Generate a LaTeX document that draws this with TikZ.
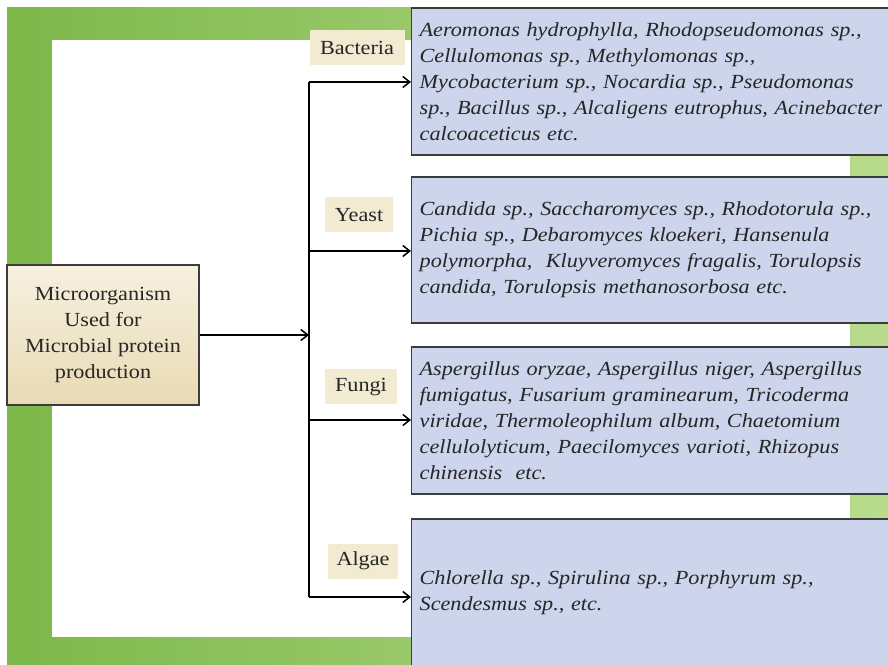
\documentclass[tikz,border=0pt]{standalone}
\usepackage{fontspec}
\setmainfont{Liberation Serif}[FakeStretch=1.11]
\usetikzlibrary{arrows.meta}
\definecolor{leafgreen}{HTML}{7DB84A}
\definecolor{palegreen}{HTML}{B9DB8E}
\definecolor{specblue}{HTML}{CDD5EC}
\definecolor{catbeige}{HTML}{F3EAD2}
\definecolor{srcbeige}{HTML}{E8DAB4}
\definecolor{edgegray}{HTML}{3C3C3C}

\begin{document}
\begin{tikzpicture}
	[x=1pt,y=1pt,every node/.style={font=\fontsize{20}{26}\selectfont,text=black!85},
	cat/.style={fill=catbeige,inner sep=0pt,minimum height=35pt},
	spec/.style={draw=edgegray,line width=1.3pt,fill=specblue,anchor=west,
		text width=490pt,inner xsep=8pt,align=left,
		font=\fontsize{20}{26}\selectfont\itshape},
	link/.style={line width=1.5pt,-{Straight Barb[length=7pt,width=11pt]}}]
	\useasboundingbox (0,0) rectangle (888,664);
	\fill[white] (0,0) rectangle (888,664);
	\shade[left color=leafgreen,right color=palegreen] (7,0) rectangle (888,656);
	\fill[white] (52,27) rectangle (850,624);

	\node[draw=edgegray,line width=1.3pt,top color=catbeige!70!white,bottom color=srcbeige,
		minimum width=192pt,minimum height=140pt,align=center,inner sep=0pt] (src) at (103,329)
		{Microorganism\\Used for\\Microbial protein\\production};

	\node[cat,minimum width=95pt] (bac) at (357,616) {Bacteria};
	\node[cat,minimum width=68pt] (yea) at (359,449) {Yeast};
	\node[cat,minimum width=72pt] (fun) at (361,277) {Fungi};
	\node[cat,minimum width=70pt] (alg) at (363,103) {Algae};

	\node[spec,minimum height=147pt] (b1) at (411,582.5)
		{Aeromonas hydrophylla, Rhodopseudomonas sp.,\\Cellulomonas sp., Methylomonas sp.,\\Mycobacterium sp., Nocardia sp., Pseudomonas\\sp., Bacillus sp., Alcaligens eutrophus, Acinebacter\\calcoaceticus etc.};
	\node[spec,minimum height=146pt] (b2) at (411,414)
		{Candida sp., Saccharomyces sp., Rhodotorula sp.,\\Pichia sp., Debaromyces kloekeri, Hansenula\\polymorpha,\ \ Kluyveromyces fragalis, Torulopsis\\candida, Torulopsis methanosorbosa etc.};
	\node[spec,minimum height=147pt] (b3) at (411,243.5)
		{Aspergillus oryzae, Aspergillus niger, Aspergillus\\fumigatus, Fusarium graminearum, Tricoderma\\viridae, Thermoleophilum album, Chaetomium\\cellulolyticum, Paecilomyces varioti, Rhizopus\\chinensis\ \ etc.};
	\node[spec,minimum height=148pt] (b4) at (411,71)
		{Chlorella sp., Spirulina sp., Porphyrum sp.,\\Scendesmus sp., etc.};

	\coordinate (hub) at (309,329);
	\coordinate (j1) at (309,582);
	\coordinate (j2) at (309,413);
	\coordinate (j3) at (309,244);
	\coordinate (j4) at (309,67);

	\draw[link] (src.east |- hub) -- (hub);
	\draw[line width=1.5pt] (j1) -- (j4);
	\foreach \j/\b in {j1/b1,j2/b2,j3/b3,j4/b4}
	\draw[link] (\j) -- (\j -| \b.west);
\end{tikzpicture}
\end{document}
